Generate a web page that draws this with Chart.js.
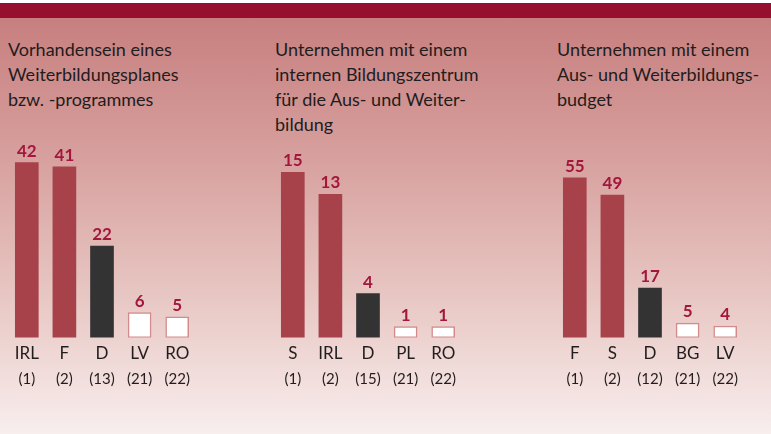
<!DOCTYPE html>
<html>
<head>
<meta charset="utf-8">
<script src="https://cdn.jsdelivr.net/npm/chart.js@4.4.1/dist/chart.umd.min.js"></script>
<style>
  html, body { margin: 0; padding: 0; }
  body {
    width: 771px; height: 434px; position: relative; overflow: hidden;
    background: linear-gradient(to bottom, #ffffff 0px, #ffffff 3px, #960f2e 3px, #960f2e 18px,
      #c77f7f 18px, #d69e9c 150px, #e8c8c4 300px, #f8eeee 434px);
    font-family: Lato, "Noto Sans", sans-serif;
  }
  .title {
    position: absolute; top: 37px; font-size: 18px; line-height: 25px; color: #231c1c;
    white-space: nowrap;
  }
  .panel { position: absolute; top: 126px; width: 260px; height: 262px; }
</style>
</head>
<body>
<div class="title" style="left:8px">Vorhandensein eines<br>Weiterbildungsplanes<br>bzw. -programmes</div>
<div class="title" style="left:275px">Unternehmen mit einem<br>internen Bildungszentrum<br>für die Aus- und Weiter-<br>bildung</div>
<div class="title" style="left:557px">Unternehmen mit einem<br>Aus- und Weiterbildungs-<br>budget</div>
<div class="panel" style="left:8px"><canvas id="c1"></canvas></div>
<div class="panel" style="left:274px"><canvas id="c2"></canvas></div>
<div class="panel" style="left:556px"><canvas id="c3"></canvas></div>
<script>
// panel 1: Weiterbildungsplan
const countries1 = ["IRL", "F", "D", "LV", "RO"];
const ranks1 = ["(1)", "(2)", "(13)", "(21)", "(22)"];
const values1 = [42, 41, 22, 6, 5];

// panel 2: internes Bildungszentrum
const countries2 = ["S", "IRL", "D", "PL", "RO"];
const ranks2 = ["(1)", "(2)", "(15)", "(21)", "(22)"];
const values2 = [15, 13, 4, 1, 1];

// panel 3: Weiterbildungsbudget
const countries3 = ["F", "S", "D", "BG", "LV"];
const ranks3 = ["(1)", "(2)", "(12)", "(21)", "(22)"];
const values3 = [55, 49, 17, 5, 4];

const RED = "#a8424a", DARK = "#333333", WHITE = "#ffffff";
const barColors = [RED, RED, DARK, WHITE, WHITE];
const borderColors = [RED, RED, DARK, "#d48a8a", "#d48a8a"];
const borderWidths = [0, 0, 0, 1.5, 1.5];

// draws the numbers above the bars
const valueLabels = {
    id: "valueLabels",
    afterDatasetsDraw(chart) {
        const ctx = chart.ctx;
        const meta = chart.getDatasetMeta(0);
        ctx.save();
        ctx.font = "bold 17px Lato, 'Noto Sans', sans-serif";
        ctx.fillStyle = "#a3173c";
        ctx.textAlign = "center";
        ctx.textBaseline = "alphabetic";
        meta.data.forEach((bar, i) => {
            ctx.fillText(chart.data.datasets[0].data[i], bar.x, bar.y - 6);
        });
        ctx.restore();
    }
};

function makeChart(id, countries, ranks, values, yMax) {
    const ctx = document.getElementById(id).getContext("2d");
    return new Chart(ctx, {
        type: "bar",
        data: {
            labels: countries,
            datasets: [{
                data: values,
                backgroundColor: barColors,
                borderColor: borderColors,
                borderWidth: borderWidths,
                borderSkipped: false,
                barThickness: 23
            }]
        },
        options: {
            responsive: true,
            maintainAspectRatio: false,
            animation: false,
            layout: { padding: { left: 0, right: 72, top: 0, bottom: 0 } },
            plugins: { legend: { display: false }, tooltip: { enabled: false } },
            scales: {
                y: { display: false, min: 0, max: yMax },
                x: {
                    grid: { display: false, drawTicks: false },
                    border: { display: false },
                    ticks: { color: "#231c1c", padding: 6, font: { family: "Lato", size: 17 } }
                },
                x2: {
                    type: "category",
                    labels: ranks,
                    position: "bottom",
                    grid: { display: false, drawTicks: false },
                    border: { display: false },
                    ticks: { color: "#231c1c", padding: 0, font: { family: "Lato", size: 15 } }
                }
            }
        },
        plugins: [valueLabels]
    });
}

makeChart("c1", countries1, ranks1, values1, 50.8);
makeChart("c2", countries2, ranks2, values2, 19.2);
makeChart("c3", countries3, ranks3, values3, 72.8);
</script>
</body>
</html>
